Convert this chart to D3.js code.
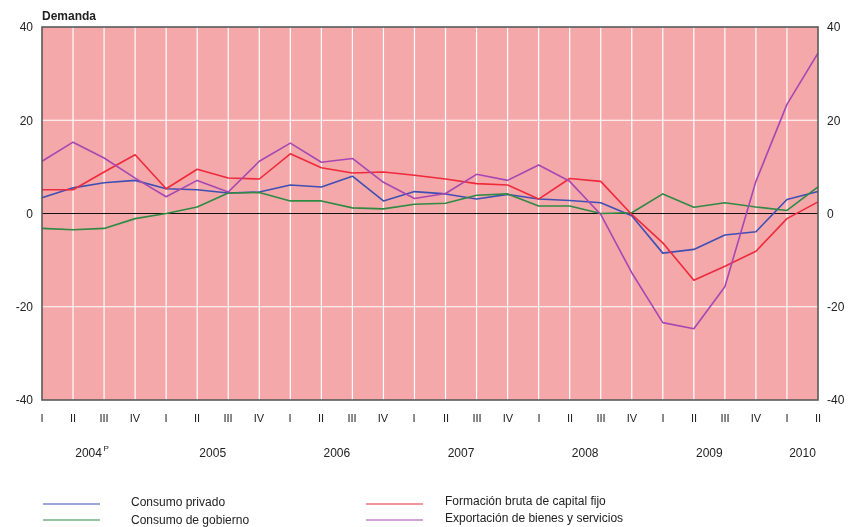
<!DOCTYPE html>
<html>
<head>
<meta charset="utf-8">
<script src="https://cdn.jsdelivr.net/npm/d3@7"></script>
<style>
  body { margin: 0; background: #fff; }
  svg { will-change: transform; }
  svg text { font-family: Arial, "Liberation Sans", sans-serif; fill: #222; }
</style>
</head>
<body>
<div id="chart"></div>
<script>
// quarters I-2004 .. II-2010
const quarters = ["I","II","III","IV","I","II","III","IV","I","II","III","IV","I","II","III","IV",
                  "I","II","III","IV","I","II","III","IV","I","II"];
const years = ["2004", "2005", "2006", "2007", "2008", "2009", "2010"];
const yTicks = [40, 20, 0, -20, -40];

const consumoPrivado = [3.4, 5.5, 6.6, 7.1, 5.3, 5.1, 4.4, 4.6, 6.1, 5.7, 8.0, 2.7, 4.7,
                        4.2, 3.1, 4.1, 3.1, 2.8, 2.3, -0.5, -8.5, -7.7, -4.6, -3.9, 3.0, 4.7];
const consumoGobierno = [-3.2, -3.5, -3.2, -1.1, 0.0, 1.4, 4.4, 4.5, 2.7, 2.7, 1.2, 1.0, 2.0,
                         2.2, 3.9, 4.2, 1.6, 1.6, 0.0, 0.15, 4.2, 1.35, 2.3, 1.4, 0.65, 5.7];
const formacionBruta = [5.1, 5.1, 8.9, 12.6, 5.3, 9.5, 7.6, 7.4, 12.8, 9.8, 8.7, 8.9, 8.2,
                        7.4, 6.4, 6.1, 3.1, 7.5, 6.9, -0.2, -6.3, -14.3, -11.3, -8.1, -1.1, 2.5];
const exportacion = [11.2, 15.3, 11.9, 7.6, 3.6, 7.1, 4.6, 11.2, 15.1, 11.0, 11.8, 6.7, 3.2,
                     4.3, 8.4, 7.1, 10.4, 6.9, -0.2, -12.7, -23.4, -24.7, -15.7, 6.9, 23.4, 34.4];

const series = [
  {name: "Consumo privado", values: consumoPrivado, color: "#3f4fb4"},
  {name: "Consumo de gobierno", values: consumoGobierno, color: "#2f8a44"},
  {name: "Formación bruta de capital fijo", values: formacionBruta, color: "#ee2a3c"},
  {name: "Exportación de bienes y servicios", values: exportacion, color: "#a847b2"}
];

const W = 849, H = 527;
const margin = {top: 27, right: 31, bottom: 127, left: 42};
const width = W - margin.left - margin.right;
const height = H - margin.top - margin.bottom;

const svg = d3.select("#chart").append("svg")
    .attr("width", W)
    .attr("height", H);

const g = svg.append("g")
    .attr("transform", `translate(${margin.left},${margin.top})`);

const x = d3.scaleLinear()
    .domain([0, quarters.length - 1])
    .range([0, width]);

const y = d3.scaleLinear()
    .domain([-40, 40])
    .range([height, 0]);

// background
g.append("rect")
    .attr("width", width)
    .attr("height", height)
    .attr("fill", "#f4a8aa");

// vertical grid at each quarter
g.selectAll(".vgrid")
    .data(d3.range(1, quarters.length - 1))
    .enter().append("line")
    .attr("class", "vgrid")
    .attr("x1", d => x(d)).attr("x2", d => x(d))
    .attr("y1", 0).attr("y2", height)
    .attr("stroke", "#fff")
    .attr("stroke-width", 1.2);

// horizontal grid
g.selectAll(".hgrid")
    .data([20, -20])
    .enter().append("line")
    .attr("class", "hgrid")
    .attr("x1", 0).attr("x2", width)
    .attr("y1", d => y(d)).attr("y2", d => y(d))
    .attr("stroke", "#fff")
    .attr("stroke-width", 1.2);

// zero line
g.append("line")
    .attr("x1", 0).attr("x2", width)
    .attr("y1", y(0)).attr("y2", y(0))
    .attr("stroke", "#111")
    .attr("stroke-width", 1.2);

// series lines
const line = d3.line()
    .x((d, i) => x(i))
    .y(d => y(d));

g.selectAll(".series")
    .data(series)
    .enter().append("path")
    .attr("class", "series")
    .attr("d", d => line(d.values))
    .attr("fill", "none")
    .attr("stroke", d => d.color)
    .attr("stroke-width", 1.6)
    .attr("stroke-linejoin", "round");

// frame
g.append("rect")
    .attr("width", width)
    .attr("height", height)
    .attr("fill", "none")
    .attr("stroke", "#5a5a5a")
    .attr("stroke-width", 1.6);

// y axes (left and right), plain hyphen for negatives
const fmt = d => String(d);
const yAxisL = g.append("g")
    .call(d3.axisLeft(y).tickValues(yTicks).tickFormat(fmt).tickSize(0).tickPadding(9));
const yAxisR = g.append("g")
    .attr("transform", `translate(${width},0)`)
    .call(d3.axisRight(y).tickValues(yTicks).tickFormat(fmt).tickSize(0).tickPadding(9));
[yAxisL, yAxisR].forEach(a => {
  a.select(".domain").remove();
  a.selectAll("text")
    .style("font-size", "12px")
    .style("font-family", "Arial, 'Liberation Sans', sans-serif")
    .attr("fill", "#222");
});

// quarter labels (snapped to whole pixels so thin glyphs render cleanly)
g.append("g")
    .selectAll("text")
    .data(quarters)
    .enter().append("text")
    .attr("x", (d, i) => Math.round(x(i)))
    .attr("y", height + 22)
    .attr("text-anchor", "middle")
    .style("font-size", "11px")
    .attr("fill", "#222")
    .text(d => d);

// year labels centered between II and III of each year
g.append("g")
    .selectAll("text")
    .data(years)
    .enter().append("text")
    .attr("x", (d, i) => x(Math.min(i * 4 + 1.5, quarters.length - 1.5)))
    .attr("y", height + 57)
    .attr("text-anchor", "middle")
    .style("font-size", "12px")
    .text(d => d);

// superscript P on 2004
g.append("text")
    .attr("x", x(1.5) + 15)
    .attr("y", height + 51)
    .style("font-size", "8px")
    .text("P");

// title
svg.append("text")
    .attr("x", margin.left)
    .attr("y", 20)
    .style("font-size", "12px")
    .style("font-weight", "bold")
    .text("Demanda");

// legend
const legendPos = [
  {lx: 43, ly: 504, tx: 131, ty: 506},
  {lx: 43, ly: 520, tx: 131, ty: 524},
  {lx: 366, ly: 504, tx: 445, ty: 505},
  {lx: 366, ly: 520, tx: 445, ty: 522}
];
const legend = svg.selectAll(".legend")
    .data(series)
    .enter().append("g")
    .attr("class", "legend");

legend.append("line")
    .attr("x1", (d, i) => legendPos[i].lx)
    .attr("x2", (d, i) => legendPos[i].lx + 57)
    .attr("y1", (d, i) => legendPos[i].ly)
    .attr("y2", (d, i) => legendPos[i].ly)
    .attr("stroke", d => d.color)
    .attr("stroke-width", 1.2);

legend.append("text")
    .attr("x", (d, i) => legendPos[i].tx)
    .attr("y", (d, i) => legendPos[i].ty)
    .style("font-size", "12px")
    .text(d => d.name);
</script>
</body>
</html>
